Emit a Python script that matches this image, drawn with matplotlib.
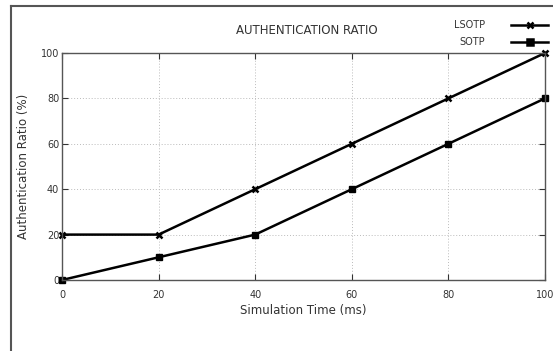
import matplotlib.pyplot as plt
from matplotlib.lines import Line2D

time_ms = [0, 20, 40, 60, 80, 100]
lsotp = [20, 20, 40, 60, 80, 100]
sotp = [0, 10, 20, 40, 60, 80]

fig = plt.figure(figsize=(5.53, 3.51), dpi=100)
ax = fig.add_axes([62 / 553, 1 - 280 / 351, 483 / 553, 227 / 351])

ax.plot(time_ms, lsotp, color='black', lw=1.8, marker='x', ms=5, mew=1.8,
        clip_on=False, label='LSOTP')
ax.plot(time_ms, sotp, color='black', lw=1.8, marker='s', ms=5,
        clip_on=False, label='SOTP')

ax.set_xlim(0, 100)
ax.set_ylim(0, 100)
ax.set_xticks(range(0, 101, 20))
ax.set_yticks(range(0, 101, 20))
ax.tick_params(direction='in', length=4, labelsize=7, colors='#333333',
               top=True, right=True)
ax.tick_params(axis='x', pad=7)
ax.tick_params(axis='y', pad=2)
ax.grid(True, color='#bbbbbb', linestyle=(0, (1, 2)), linewidth=0.7)
for s in ax.spines.values():
    s.set_color('#555555')
    s.set_linewidth(1)

ax.set_xlabel('Simulation Time (ms)', fontsize=8.5, color='#333333', labelpad=3)
ax.set_ylabel('Authentication Ratio (%)', fontsize=8.5, color='#333333', labelpad=8)

fig.text(307 / 553, 1 - 31 / 351, 'AUTHENTICATION RATIO', ha='center',
         va='center', fontsize=8.5, color='#333333')

# legend drawn gnuplot-style at top right
leg_y = [25, 42]
for name, mk, yy in [('LSOTP', 'x', leg_y[0]), ('SOTP', 's', leg_y[1])]:
    fy = 1 - yy / 351
    fig.text(485 / 553, fy, name, ha='right', va='center', fontsize=7,
             color='#333333')
    fig.add_artist(Line2D([511 / 553, 548 / 553], [fy, fy], color='black',
                          lw=1.8, transform=fig.transFigure))
    fig.add_artist(Line2D([529.5 / 553], [fy], color='black', marker=mk,
                          ms=5, mew=1.8, transform=fig.transFigure))

# window frame
fig.add_artist(Line2D([11 / 553, 1], [1 - 6 / 351, 1 - 6 / 351],
                      color='#555555', lw=1.5, transform=fig.transFigure))
fig.add_artist(Line2D([11 / 553, 11 / 553], [0, 1 - 6 / 351],
                      color='#555555', lw=1.5, transform=fig.transFigure))

fig.savefig('out.png', dpi=100)
